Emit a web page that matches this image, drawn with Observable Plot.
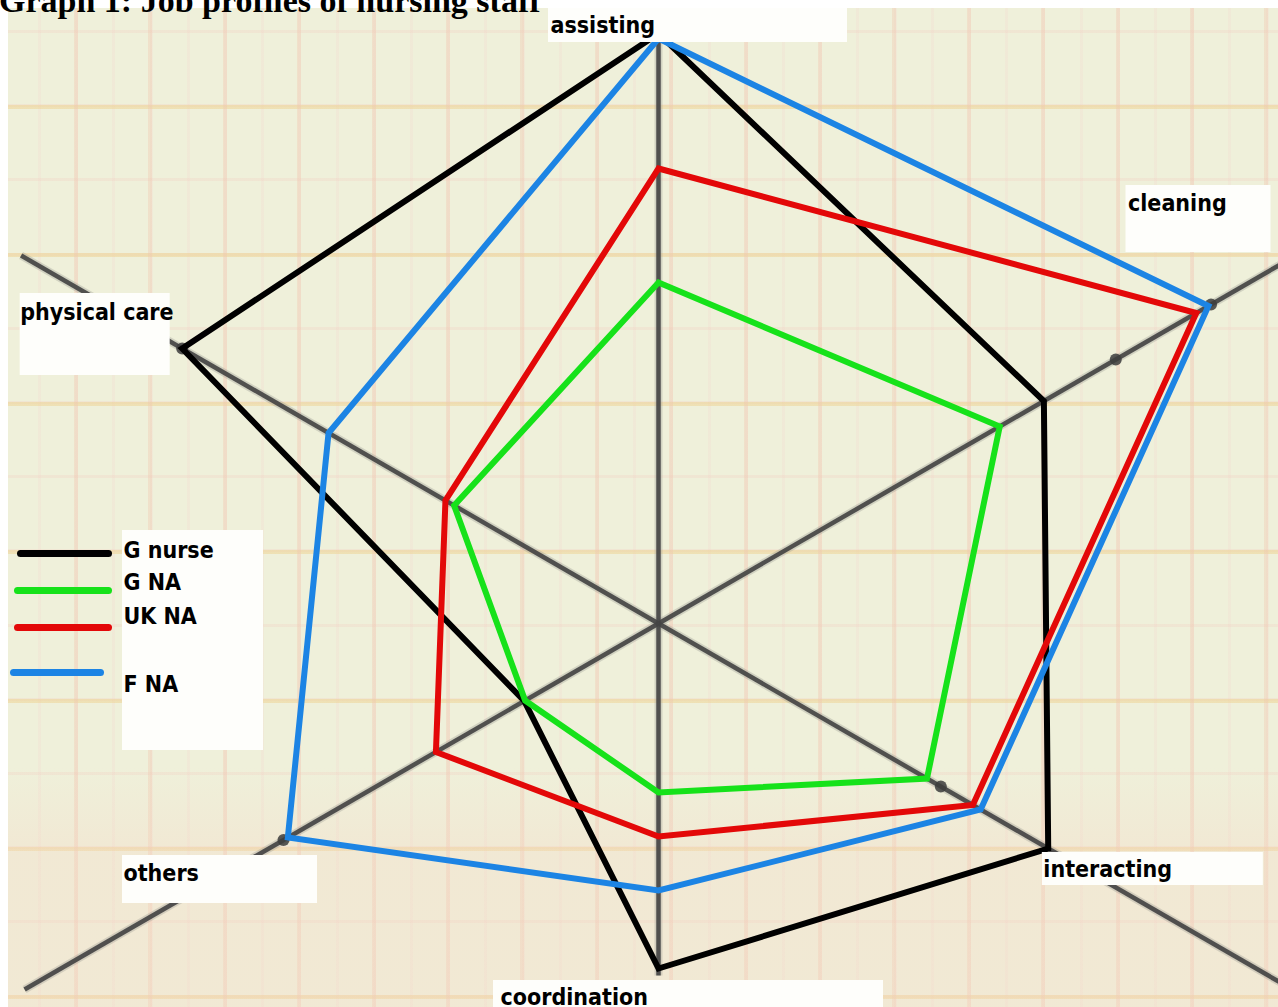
<!DOCTYPE html>
<html>
<head>
<meta charset="utf-8">
<script src="https://cdn.jsdelivr.net/npm/d3@7"></script>
<script src="https://cdn.jsdelivr.net/npm/@observablehq/plot@0.6"></script>
<style>
  html, body { margin: 0; padding: 0; background: #ffffff; }
  #wrap { position: relative; width: 1278px; height: 1007px; overflow: hidden; background: #ffffff; }
  #paper {
    position: absolute; left: 8px; top: 8px; right: 0; bottom: 0;
    background-color: #eff0da;
    background-image:
      linear-gradient(to bottom, rgba(255,255,255,0) 0%, rgba(255,255,255,0) 76%, rgba(246,216,198,0.30) 84%, rgba(246,216,198,0.30) 100%),
      repeating-linear-gradient(90deg, rgba(0,0,0,0) 0px, rgba(0,0,0,0) 66px, rgba(240,200,176,0.38) 66px, rgba(240,200,176,0.38) 70px, rgba(0,0,0,0) 70px, rgba(0,0,0,0) 74.4px),
      repeating-linear-gradient(180deg, rgba(0,0,0,0) 0px, rgba(0,0,0,0) 97px, rgba(238,212,150,0.55) 97px, rgba(238,212,150,0.55) 101px, rgba(0,0,0,0) 101px, rgba(0,0,0,0) 148.4px),
      repeating-linear-gradient(180deg, rgba(0,0,0,0) 0px, rgba(0,0,0,0) 22px, rgba(242,204,192,0.28) 22px, rgba(242,204,192,0.28) 25px, rgba(0,0,0,0) 25px, rgba(0,0,0,0) 74.2px),
      repeating-linear-gradient(90deg, rgba(0,0,0,0) 0px, rgba(0,0,0,0) 30px, rgba(244,210,204,0.22) 30px, rgba(244,210,204,0.22) 33px, rgba(0,0,0,0) 33px, rgba(0,0,0,0) 37.2px);
  }
  #title {
    position: absolute; left: -1px; top: -16px; white-space: nowrap;
    font-family: "Liberation Serif", "Times New Roman", serif; font-weight: bold; font-size: 34px; line-height: 1;
    color: #000;
  }
  #chart { position: absolute; left: 0; top: 0; }
  #chart svg text { font-stretch: condensed; }
</style>
</head>
<body>
<div id="wrap">
  <div id="paper"></div>
  <div id="title">Graph 1: Job profiles of nursing staff</div>
  <div id="chart"></div>
</div>
<script>
// ---------- DATA ----------
const axes = ["assisting", "cleaning", "interacting", "coordination", "others", "physical care"];
const axisAngles = [90, 30, -30, -90, 210, 150];            // degrees, counter-clockwise from "east"
const axisReach = [58.8, 76, 76, 35.2, 73.2, 73.6];          // drawn length of each spoke (value units)

const seriesNames = ["G nurse", "G NA", "UK NA", "F NA"];
const seriesColors = ["#000000", "#16e21a", "#e30808", "#1c84e4"];

const gNurse = [59.0, 44.5, 45.0, 34.5, 15.5, 55.0];
const gNA    = [34.1, 39.4, 31.0, 16.9, 15.4, 23.6];
const ukNA   = [45.5, 62.1, 36.3, 21.3, 25.7, 24.6];
const fNA    = [58.5, 63.5, 37.2, 26.7, 42.8, 38.1];

// knobs drawn on the spokes in the original
const knobAxes   = ["cleaning", "cleaning", "others", "physical care", "interacting"];
const knobValues = [52.8, 63.8, 43.3, 55.0, 32.6];

// ---------- LAYOUT (pixel offsets) ----------
const labelLayout = {
  "assisting":     {r: 58.8, tx: -108, ty: -3,   box: [-110, -27, 189, 7]},
  "cleaning":      {r: 63.8, tx: -83,  ty: -94,  box: [-85, -119, 60, -52]},
  "interacting":   {r: 44.9, tx: -4,   ty: 29,   box: [-5, 4.5, 216, 37.5]},
  "coordination":  {r: 35.2, tx: -158, ty: 29,   box: [-165, 5, 225, 40]},
  "others":        {r: 43.3, tx: -160, ty: 41,   box: [-161, 15.5, 34, 63.5]},
  "physical care": {r: 55.0, tx: -162, ty: -29,  box: [-162, -55, -12, 27]}
};
const legendLayout = [
  {ly: 553, lx1: 20, lx2: 108, ty: 557},
  {ly: 590, lx1: 17, lx2: 108, ty: 589},
  {ly: 627, lx1: 17, lx2: 108, ty: 623},
  {ly: 672, lx1: 13, lx2: 100, ty: 691}
];
const legendBox = [122, 530, 263, 750];

// ---------- BUILD ----------
const W = 1278, H = 1007;
const cx = 65.8, cy = 62.3;                 // centre position expressed in value units (10 px per unit)
const px2x = p => p / 10 - cx;
const px2y = p => cy - p / 10;
const rad = a => a * Math.PI / 180;
const polar = (v, i) => [v * Math.cos(rad(axisAngles[i])), v * Math.sin(rad(axisAngles[i]))];

const seriesValues = [gNurse, gNA, ukNA, fNA];
const rows = seriesNames.flatMap((s, si) =>
  seriesValues[si].map((v, i) => {
    const [x, y] = polar(v, i);
    return {series: s, axis: axes[i], value: v, x, y};
  })
);

const spokes = axes.map((a, i) => {
  const [x2, y2] = polar(axisReach[i], i);
  return {axis: a, x1: 0, y1: 0, x2, y2};
});

const knobs = knobAxes.map((a, k) => {
  const i = axes.indexOf(a);
  const [x, y] = polar(knobValues[k], i);
  return {axis: a, x, y};
});

const labels = axes.map((a, i) => {
  const L = labelLayout[a];
  const [ax, ay] = polar(L.r, i);
  return {
    axis: a,
    x: ax + L.tx / 10, y: ay - L.ty / 10,
    bx1: ax + L.box[0] / 10, bx2: ax + L.box[2] / 10,
    by1: ay - L.box[1] / 10, by2: ay - L.box[3] / 10
  };
});

const legendRows = seriesNames.map((s, i) => ({
  series: s,
  x1: px2x(legendLayout[i].lx1), x2: px2x(legendLayout[i].lx2),
  y: px2y(legendLayout[i].ly),
  tx: px2x(legendBox[0] + 1), ty: px2y(legendLayout[i].ty)
}));

const labelFont = {fontFamily: "'DejaVu Sans Condensed', 'DejaVu Sans', sans-serif", fontWeight: "bold", fontSize: 23};

const chart = Plot.plot({
  width: W, height: H,
  marginTop: 0, marginRight: 0, marginBottom: 0, marginLeft: 0,
  style: {background: "transparent", overflow: "visible"},
  x: {domain: [-cx, W / 10 - cx], axis: null},
  y: {domain: [cy - H / 10, cy], axis: null},
  color: {domain: seriesNames, range: seriesColors},
  marks: [
    // soft halo for the scanned spokes
    Plot.link(spokes, {x1: "x1", y1: "y1", x2: "x2", y2: "y2", stroke: "#9a9a92", strokeWidth: 8, strokeOpacity: 0.35}),
    Plot.link(spokes, {x1: "x1", y1: "y1", x2: "x2", y2: "y2", stroke: "#444444", strokeWidth: 4.5, strokeOpacity: 0.92}),
    Plot.dot(knobs, {x: "x", y: "y", r: 6, fill: "#3d3d3d", fillOpacity: 0.85}),
    Plot.line(rows, {
      x: "x", y: "y", z: "series", stroke: "series", curve: "linear-closed",
      strokeWidth: 6, strokeLinejoin: "miter", strokeMiterlimit: 6
    }),
    // white label boxes
    Plot.rect(labels, {x1: "bx1", x2: "bx2", y1: "by1", y2: "by2", fill: "#fefefb"}),
    Plot.text(labels, {
      x: "x", y: "y", text: "axis", textAnchor: "start", lineAnchor: "bottom",
      fill: "#000", ...labelFont
    }),
    // legend
    Plot.rect([legendBox], {
      x1: d => px2x(d[0]), x2: d => px2x(d[2]), y1: d => px2y(d[1]), y2: d => px2y(d[3]), fill: "#fefefb"
    }),
    Plot.link(legendRows, {x1: "x1", x2: "x2", y1: "y", y2: "y", stroke: "series", strokeWidth: 7, strokeLinecap: "round"}),
    Plot.text(legendRows, {
      x: "tx", y: "ty", text: "series", textAnchor: "start", lineAnchor: "bottom",
      fill: "#000", ...labelFont
    })
  ]
});

document.getElementById("chart").appendChild(chart);
</script>
</body>
</html>
